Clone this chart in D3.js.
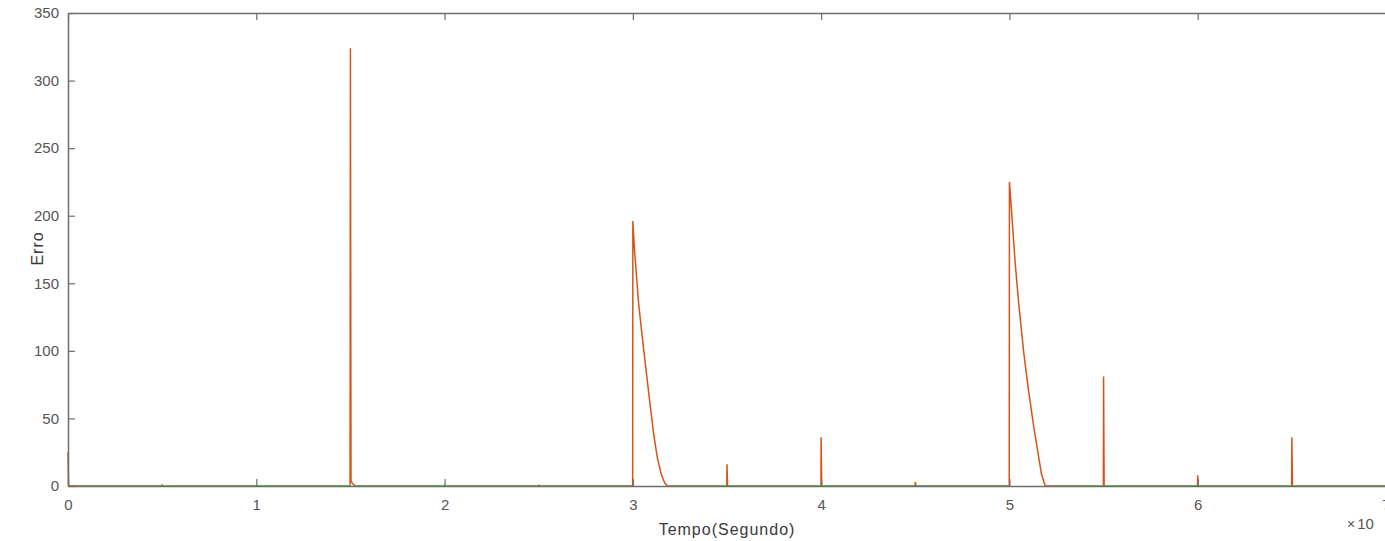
<!DOCTYPE html>
<html>
<head>
<meta charset="utf-8">
<script src="https://cdn.jsdelivr.net/npm/d3@7"></script>
<style>
  body { margin: 0; background: #fff; }
  svg { display: block; font-family: "Liberation Sans", Arial, sans-serif; }
</style>
</head>
<body>
<svg id="chart" width="1385" height="541"></svg>
<script>
// time in seconds, error values
var tempo = [
  0, 30, 4990, 5000, 5020,
  14980, 15000, 15030, 15100, 15250,
  19990, 20000, 20020, 24990, 25000, 25020,
  29990, 30000, 30080, 30170, 30300, 30500, 30700, 30900, 31100, 31300, 31500, 31700, 31850,
  34990, 35000, 35030,
  39990, 40000, 40030,
  44990, 45000, 45040,
  49990, 50000, 50100, 50200, 50300, 50500, 50750, 51000, 51300, 51500, 51700, 51900,
  54990, 55000, 55030,
  59990, 60000, 60030,
  64990, 65000, 65030,
  70000
];
var erro = [
  25, 0, 0, 1.2, 0,
  0, 324, 4, 2, 0,
  0, 1, 0, 0, 1, 0,
  0, 196, 176, 160, 136, 110, 86, 62, 39, 21, 9, 2, 0,
  0, 16, 0,
  0, 36, 0,
  0, 3, 0,
  0, 225, 206, 186, 166, 134, 100, 72, 43, 26, 9, 0,
  0, 81, 0,
  0, 8, 0,
  0, 36, 0,
  0
];
var xTicks = [0, 10000, 20000, 30000, 40000, 50000, 60000, 70000];
var yTicks = [0, 50, 100, 150, 200, 250, 300, 350];

var data = tempo.map(function(t, i) { return [t, erro[i]]; });

var margin = {left: 68, top: 13},
    width = 1318,
    height = 473;

var svg = d3.select("#chart").append("g")
    .attr("transform", "translate(" + margin.left + "," + margin.top + ")");

var x = d3.scaleLinear().domain([0, 70000]).range([0, width]);
var y = d3.scaleLinear().domain([0, 350]).range([height, 0]);

var axisCol = "#6e6e6e", textCol = "#555";

// data line
svg.append("path")
  .datum(data)
  .attr("fill", "none")
  .attr("stroke", "#d95319")
  .attr("stroke-width", 1.5)
  .attr("d", d3.line().x(function(d) { return x(d[0]); }).y(function(d) { return y(d[1]); }));

// bottom axis (ticks inside)
var xa = svg.append("g")
  .attr("transform", "translate(0," + height + ")")
  .call(d3.axisBottom(x).tickValues(xTicks).tickSizeInner(-7).tickSizeOuter(0).tickPadding(13)
        .tickFormat(function(d) { return d / 10000; }));
// top axis ticks
var xt = svg.append("g")
  .call(d3.axisTop(x).tickValues(xTicks).tickSizeInner(-7).tickSizeOuter(0).tickFormat(""));
// left axis
var ya = svg.append("g")
  .call(d3.axisLeft(y).tickValues(yTicks).tickSizeInner(-7).tickSizeOuter(0).tickPadding(9));

[xa, xt, ya].forEach(function(g) {
  g.select(".domain").attr("stroke", axisCol).attr("stroke-width", 1.5);
  g.selectAll(".tick line").attr("stroke", axisCol).attr("stroke-width", 1.2);
  g.selectAll(".tick text").attr("fill", textCol).style("font-size", "15px");
});

svg.append("text")
  .attr("x", width / 2)
  .attr("y", height + 49)
  .attr("text-anchor", "middle")
  .attr("fill", "#3a3a3a")
  .style("font-size", "16px")
  .style("letter-spacing", "1px")
  .text("Tempo(Segundo)");

svg.append("text")
  .attr("transform", "rotate(-90)")
  .attr("x", -(height / 2) + 1)
  .attr("y", -25)
  .attr("text-anchor", "middle")
  .attr("fill", "#3a3a3a")
  .style("font-size", "16px")
  .style("letter-spacing", "1px")
  .text("Erro");

// exponent label
var ex = svg.append("text")
  .attr("x", 1279)
  .attr("y", height + 43)
  .attr("fill", textCol)
  .style("font-size", "15px");
ex.append("tspan").text("\u00d7").style("font-size", "14px");
ex.append("tspan").attr("dx", 2).text("10");
</script>
</body>
</html>
